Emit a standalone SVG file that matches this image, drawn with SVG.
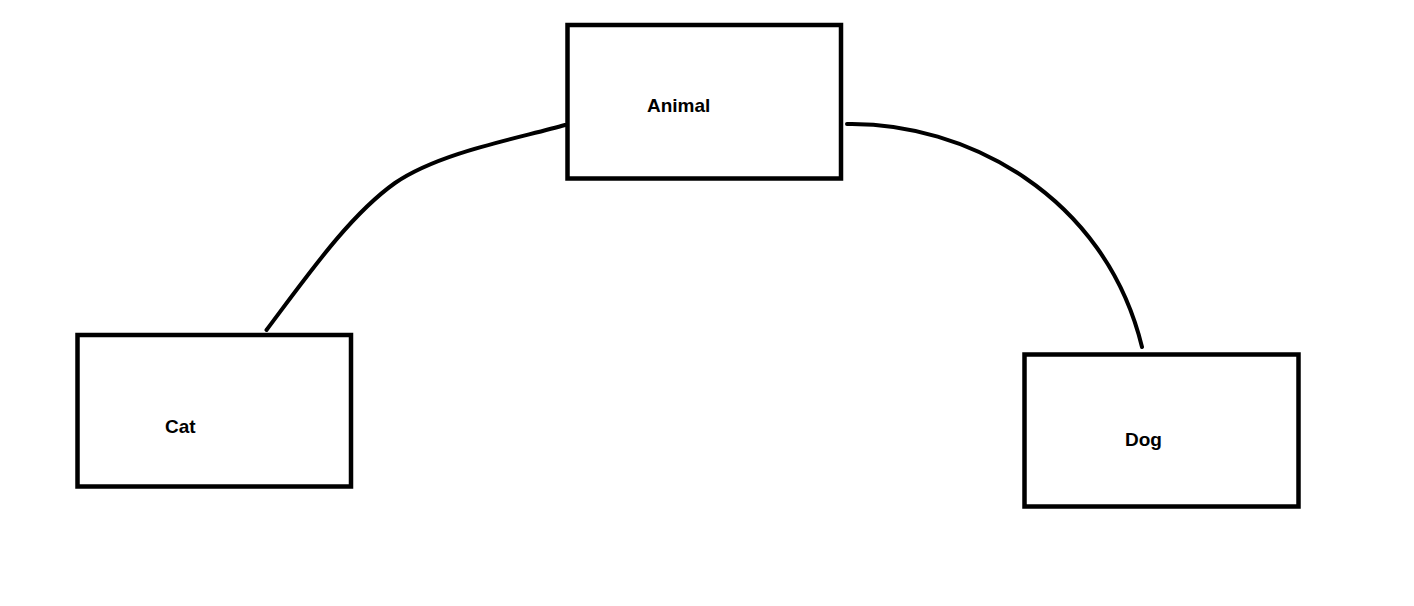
<svg xmlns="http://www.w3.org/2000/svg" width="1414" height="606" viewBox="0 0 1414 606">
<style>
.box{fill:#fff;stroke:#000;stroke-width:4.5}
.lbl{font-family:"Liberation Sans",Arial,sans-serif;font-weight:bold;font-size:19px;fill:#000}
.edge{fill:none;stroke:#000;stroke-width:4;stroke-linecap:round}
</style>
<rect width="1414" height="606" fill="#fff"/>
<g id="connectors">
<path class="edge" d="M266.5,330 C310,272 350,215 395,183 C440,152 520,138 565,125"/>
<path class="edge" d="M847,124 C965,122 1105,195 1142,347"/>
</g>
<g id="animal">
<rect class="box" x="567.5" y="25" width="273.5" height="153.5"/>
<text class="lbl" x="647" y="112">Animal</text>
</g>
<g id="cat">
<rect class="box" x="77.5" y="335" width="273.5" height="151.5"/>
<text class="lbl" x="165" y="433">Cat</text>
</g>
<g id="dog">
<rect class="box" x="1024.5" y="354.5" width="274" height="152"/>
<text class="lbl" x="1125" y="446">Dog</text>
</g>
</svg>
